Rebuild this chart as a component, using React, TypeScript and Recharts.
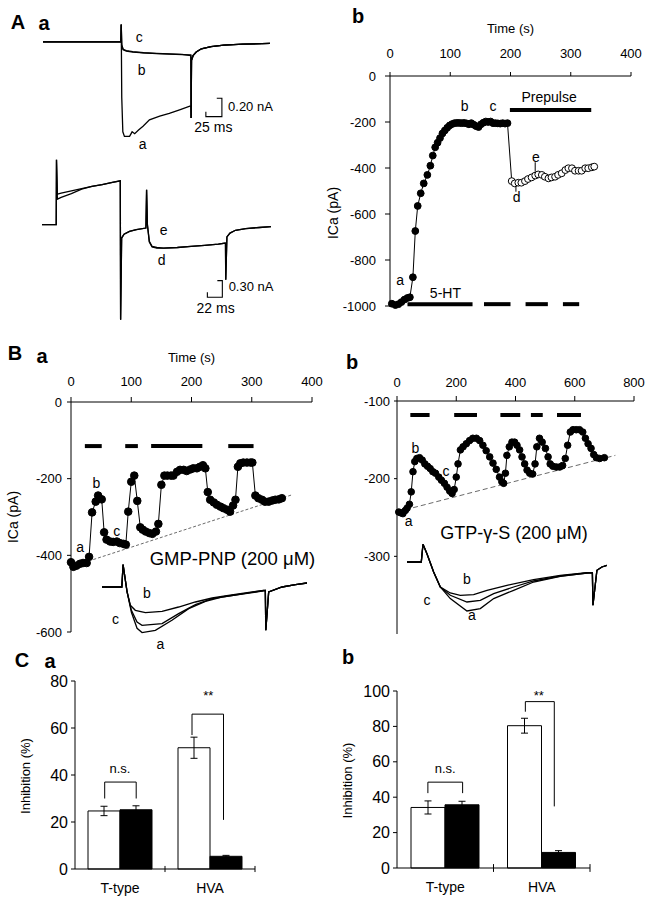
import React from "react"
import {
  Bar,
  ComposedChart,
  ErrorBar,
  Line,
  ReferenceLine,
  Scatter,
  XAxis,
  YAxis,
} from "recharts"

const FONT = '"Liberation Sans", Arial, Helvetica, sans-serif'

type Pair = [number, number]
type Note = [number, number, string]

// ---------- A a : current records, time (ms) vs current (nA) ----------
const aaTraceA: Pair[] = [
  [-122, 0], [-0.5, 0], [0, 0.19], [0.8, -0.6], [2.5, -0.98], [5, -1.03], [13, -1.03],
  [17, -0.98], [21, -1.0], [27, -0.96], [34, -0.92], [44, -0.85], [60, -0.81], [75, -0.78],
  [91, -0.74], [107, -0.7], [108.6, -0.7], [109, -0.83], [109.6, -0.2], [112, -0.15],
  [117, -0.11], [125, -0.075], [140, -0.05], [160, -0.035], [190, -0.025], [232, -0.015],
]
const aaTraceB: Pair[] = [
  [-122, 0], [-0.5, 0], [0, 0.19], [0.8, -0.04], [3, -0.085], [8, -0.1], [18, -0.112],
  [35, -0.12], [55, -0.127], [75, -0.133], [95, -0.138], [108.6, -0.142], [109, -0.83],
  [109.6, -0.2], [112, -0.15], [117, -0.11], [125, -0.075], [140, -0.05], [160, -0.035],
  [190, -0.025], [232, -0.015],
]
const aaTraceC: Pair[] = [
  [-122, 0], [-0.5, 0], [0, 0.19], [0.8, -0.03], [3, -0.08], [8, -0.095], [18, -0.105],
  [35, -0.118], [55, -0.125], [75, -0.13], [95, -0.135], [108.6, -0.15], [109, -0.83],
  [109.6, -0.2], [112, -0.15], [117, -0.11], [125, -0.075], [140, -0.05], [160, -0.035],
  [190, -0.025], [232, -0.015],
]
const aaScaleTop: Pair[] = [[149, -0.614], [157, -0.614], [157, -0.814], [132, -0.814], [132, -0.76]]
const aaNotesTop: Note[] = [[28, 0.058, "c"], [32, -0.305, "b"], [33.5, -1.11, "a"], [143.7, -0.924, "25 ms"]]
const aaUnitTop: Note[] = [[166.6, -0.705, "0.20 nA"]]

const aaTraceE: Pair[] = [
  [-153, 0], [-132.2, 0], [-131.8, 1.17], [-130.5, 0.55], [-125, 0.57], [-110, 0.61],
  [-95, 0.65], [-80, 0.69], [-65, 0.72], [-50, 0.76], [-38.5, 0.79], [-38, -1.71],
  [-36.5, -0.24], [-33, -0.17], [-25, -0.12], [-15, -0.09], [-1, -0.06], [0, 0.63],
  [1.2, 0.0], [4, -0.3], [8, -0.39], [15, -0.41], [25, -0.42], [45, -0.41], [65, -0.39],
  [85, -0.37], [105, -0.35], [115.4, -0.33], [115.8, -0.99], [117.5, -0.22], [122, -0.15],
  [130, -0.1], [145, -0.07], [165, -0.05], [182, -0.035],
]
const aaTraceD: Pair[] = [
  [-153, 0], [-132.2, 0], [-131.8, 1.17], [-130.5, 0.46], [-125, 0.49], [-110, 0.56],
  [-95, 0.64], [-80, 0.69], [-65, 0.72], [-50, 0.76], [-38.5, 0.79], [-38, -1.71],
  [-36.5, -0.24], [-33, -0.17], [-25, -0.12], [-15, -0.09], [-1, -0.06], [0, 0.63],
  [1.2, 0.0], [4, -0.31], [8, -0.4], [15, -0.42], [25, -0.42], [45, -0.41], [65, -0.39],
  [85, -0.37], [105, -0.35], [115.4, -0.33], [115.8, -0.99], [117.5, -0.22], [122, -0.15],
  [130, -0.1], [145, -0.07], [165, -0.05], [182, -0.035],
]
const aaScaleBottom: Pair[] = [[103.5, -1.005], [110.8, -1.005], [110.8, -1.305], [88.9, -1.305], [88.9, -1.215]]
const aaNotesBottom: Note[] = [[24.9, -0.09, "e"], [22, -0.63, "d"], [101, -1.49, "22 ms"]]
const aaUnitBottom: Note[] = [[120, -1.11, "0.30 nA"]]

// ---------- A b : ICa (pA) vs time (s) ----------
const abTimeTicks = [0, 100, 200, 300, 400]
const abCurrentTicks = [-1000, -800, -600, -400, -200, 0]
const abControl: Pair[] = [
  [3, -990], [9, -996], [14, -992], [19, -983], [24, -972], [29, -965], [33, -962],
  [38, -875], [42, -674], [46, -565], [51, -510], [56, -467], [62, -430], [67, -390],
  [71, -346], [75, -310], [79, -290], [83, -270], [87, -250], [91, -237], [95, -225],
  [99, -215], [103, -209], [107, -205], [111, -204], [115, -204], [119, -205], [123, -204],
  [127, -206], [131, -210], [135, -205], [139, -212], [143, -218], [147, -222], [151, -210],
  [155, -203], [159, -198], [163, -200], [167, -198], [171, -205], [175, -205], [179, -206],
  [183, -207], [187, -205], [191, -207], [195, -205],
]
const abPrepulse: Pair[] = [
  [202, -457], [207, -467], [213, -464], [218, -464], [224, -457], [229, -448], [235, -441],
  [241, -433], [246, -428], [252, -430], [257, -438], [263, -445], [268, -441], [274, -438],
  [279, -430], [285, -423], [291, -409], [296, -401], [302, -401], [307, -412], [313, -412],
  [318, -412], [324, -401], [329, -401], [335, -397], [339, -394],
]
const abDrugBars: Pair[] = [[29, 137], [156, 200], [225, 262], [287, 314]]
const abDrugLevel = -992
const abPrepulseBars: Pair[] = [[199, 334]]
const abPrepulseLevel = -148
const abLeaders: Pair[][] = [[[209, -471], [209, -503]], [[241, -375], [241, -416]]]
const abNotes: Note[] = [
  [17, -887, "a"], [124, -130, "b"], [171, -130, "c"], [210, -525, "d"], [242, -352, "e"],
  [264, -90, "Prepulse"], [92, -945, "5-HT"],
]

// ---------- B a : GMP-PNP ----------
const baTimeTicks = [0, 100, 200, 300, 400]
const baCurrentTicks = [-600, -400, -200, 0]
const baPoints: Pair[] = [
  [0, -418], [4, -430], [9, -427], [15, -422], [20, -420], [26, -420], [30, -404], [35, -288],
  [41, -260], [45, -244], [51, -254], [55, -340], [59, -359], [65, -364], [70, -365],
  [76, -364], [81, -368], [87, -370], [91, -372], [95, -286], [100, -208], [105, -192],
  [110, -258], [115, -327], [119, -333], [124, -338], [130, -342], [135, -344], [141, -338],
  [145, -318], [150, -216], [155, -192], [160, -192], [166, -192], [170, -192], [176, -182],
  [181, -177], [187, -177], [192, -180], [198, -176], [203, -173], [209, -173], [214, -169],
  [219, -165], [223, -173], [227, -235], [231, -255], [237, -262], [242, -268], [248, -273],
  [253, -277], [259, -281], [264, -286], [269, -270], [273, -255], [277, -169], [281, -160],
  [286, -158], [292, -158], [298, -158], [301, -158], [306, -244], [311, -251], [317, -255],
  [322, -260], [328, -260], [334, -257], [339, -255], [345, -254], [350, -251],
]
const baRundown: Pair[] = [[37, -411], [367, -242]]
const baDrugBars: Pair[] = [[23, 51], [90, 111], [133, 218], [261, 303]]
const baDrugLevel = -115
const baNotes: Note[] = [[15, -377, "a"], [42, -210, "b"], [76, -336, "c"]]
const baTitle: Note[] = [[268, -408, "GMP-PNP (200 \u03bcM)"]]

// B a inset records (ms, nA)
const baInsetA: Pair[] = [
  [-22, 0], [-1.3, 0], [0, 0.224], [4.2, -0.05], [8.7, -0.253], [14.6, -0.413], [19.8, -0.456],
  [33.7, -0.433], [51, -0.333], [68.5, -0.216], [86, -0.143], [103, -0.1], [127.7, -0.066],
  [146.8, -0.038], [148.5, -0.036], [149, -0.433], [152, -0.05], [166, 0], [180, 0.023], [192, 0.04],
]
const baInsetB: Pair[] = [
  [-22, 0], [-1.3, 0], [0, 0.224], [4.2, -0.05], [7.6, -0.183], [12.8, -0.233], [23.3, -0.256],
  [40.7, -0.243], [58, -0.2], [75.5, -0.15], [93, -0.11], [110, -0.083], [127.7, -0.06],
  [146.8, -0.033], [148.5, -0.033], [149, -0.433], [152, -0.05], [166, 0], [180, 0.023], [192, 0.04],
]
const baInsetC: Pair[] = [
  [-22, 0], [-1.3, 0], [0, 0.224], [4.2, -0.05], [8.7, -0.233], [14.6, -0.35], [19.8, -0.383],
  [40.7, -0.366], [58, -0.266], [75.5, -0.176], [93, -0.116], [110, -0.09], [127.7, -0.063],
  [146.8, -0.035], [148.5, -0.034], [149, -0.433], [152, -0.05], [166, 0], [180, 0.023], [192, 0.04],
]
const baInsetNotes: Note[] = [[25, -0.056, "b"], [-8, -0.316, "c"], [38.9, -0.566, "a"]]

// ---------- B b : GTP-gamma-S ----------
const bbTimeTicks = [0, 200, 400, 600, 800]
const bbCurrentTicks = [-400, -300, -200, -100]
const bbPoints: Pair[] = [
  [6, -243], [13, -244], [20, -245], [28, -241], [34, -238], [42, -233], [48, -217], [54, -191],
  [60, -178], [67, -174], [76, -173], [85, -176], [94, -181], [103, -184], [112, -187],
  [121, -191], [130, -193], [141, -198], [150, -202], [160, -206], [169, -211], [178, -216],
  [186, -219], [193, -214], [200, -198], [206, -181], [214, -163], [223, -159], [234, -155],
  [245, -151], [256, -148], [268, -148], [279, -151], [290, -157], [301, -164], [313, -172],
  [324, -180], [335, -188], [346, -198], [354, -204], [360, -206], [366, -193], [371, -170],
  [379, -159], [388, -153], [397, -153], [405, -157], [414, -163], [422, -172], [431, -181],
  [439, -189], [448, -193], [458, -194], [466, -181], [472, -159], [481, -148], [490, -153],
  [501, -161], [510, -172], [517, -181], [526, -184], [538, -185], [549, -185], [559, -183],
  [568, -174], [576, -157], [585, -140], [594, -137], [605, -137], [616, -137], [627, -140],
  [636, -148], [645, -155], [655, -161], [664, -169], [673, -173], [684, -174], [700, -173],
]
const bbRundown: Pair[] = [[28, -240], [737, -170]]
const bbDrugBars: Pair[] = [[45, 110], [193, 270], [349, 416], [452, 492], [540, 621]]
const bbDrugLevel = -118
const bbNotes: Note[] = [[39, -255, "a"], [62, -160, "b"], [165, -190, "c"]]
const bbTitle: Note[] = [[395, -270, "GTP-\u03b3-S (200 \u03bcM)"]]

// B b inset records (ms, nA)
const bbInsetA: Pair[] = [
  [-14.1, 0], [-1.5, 0], [0, 0.177], [3.5, 0.083], [9.4, -0.1], [15.3, -0.25], [24.1, -0.366],
  [38.8, -0.49], [50.6, -0.466], [62.4, -0.366], [80, -0.283], [97.6, -0.2], [121.2, -0.143],
  [144.7, -0.11], [149.5, -0.107], [150, -0.433], [153.5, -0.083], [157.9, -0.05], [162.4, -0.033],
]
const bbInsetB: Pair[] = [
  [-14.1, 0], [-1.5, 0], [0, 0.177], [3.5, 0.083], [9.4, -0.1], [15.3, -0.25], [24.1, -0.31],
  [32.9, -0.333], [44.7, -0.327], [56.5, -0.283], [74.1, -0.233], [97.6, -0.177], [121.2, -0.133],
  [144.7, -0.107], [149.5, -0.107], [150, -0.433], [153.5, -0.083], [157.9, -0.05], [162.4, -0.033],
]
const bbInsetC: Pair[] = [
  [-14.1, 0], [-1.5, 0], [0, 0.177], [3.5, 0.083], [9.4, -0.1], [15.3, -0.25], [24.1, -0.333],
  [38.8, -0.4], [50.6, -0.383], [62.4, -0.316], [80, -0.25], [97.6, -0.19], [121.2, -0.14],
  [144.7, -0.11], [149.5, -0.108], [150, -0.433], [153.5, -0.083], [157.9, -0.05], [162.4, -0.033],
]
const bbInsetNotes: Note[] = [[38.8, -0.166, "b"], [3.5, -0.383, "c"], [43.2, -0.533, "a"]]

// ---------- C : inhibition (%) ----------
const cCategories = ["T-type", "HVA"]
const caTicks = [0, 20, 40, 60, 80]
const caControl = [24.7, 51.6]
const caControlErr = [2.0, 4.5]
const caTreated = [25.2, 5.4]
const caTreatedErr = [1.7, 0.4]
const caBrackets: Pair[][] = [
  [[0.33, 30], [0.33, 37], [0.68, 37], [0.68, 30]],
  [[1.3, 57], [1.3, 65.9], [1.65, 65.9], [1.65, 20.9]],
]
const caNotes: Note[] = [[0.5, 42.8, "n.s."], [1.48, 73.9, "**"]]

const cbTicks = [0, 20, 40, 60, 80, 100]
const cbControl = [34.2, 80.4]
const cbControlErr = [3.7, 4.2]
const cbTreated = [35.7, 8.8]
const cbTreatedErr = [2.0, 1.0]
const cbBrackets: Pair[][] = [
  [[0.32, 42.3], [0.32, 48.5], [0.68, 48.5], [0.68, 42.3]],
  [[1.33, 88.3], [1.33, 94], [1.63, 94], [1.63, 34.8]],
]
const cbNotes: Note[] = [[0.5, 56.4, "n.s."], [1.47, 97.4, "**"]]
const cGroupEdges = [1, 2]

// ---------- helpers ----------
const pts = (rows: Pair[]) => rows.map(([x, y]) => ({ x, y }))
const notes = (rows: Note[]) => rows.map(([x, y, text]) => ({ x, y, text }))

const textShape =
  (size: number, anchor: "start" | "middle" | "end" = "middle") =>
  (p: any) =>
    (
      <text
        x={p.cx}
        y={p.cy}
        fontSize={size}
        textAnchor={anchor}
        dominantBaseline="central"
        fill="#000"
      >
        {p.payload.text}
      </text>
    )

const dotShape = (r: number, filled: boolean) => (p: any) =>
  <circle cx={p.cx} cy={p.cy} r={r} fill={filled ? "#000" : "#fff"} stroke="#000" strokeWidth={1} />

const vTitle = (text: string, dx: number, dy: number, size: number) => (props: any) => {
  const vb = props.viewBox ?? { x: 0, y: 0, width: 0, height: 0 }
  const x = vb.x + dx
  const y = vb.y + vb.height / 2 + dy
  return (
    <text
      x={x}
      y={y}
      transform={`rotate(-90 ${x} ${y})`}
      textAnchor="middle"
      dominantBaseline="central"
      fontSize={size}
      fill="#000"
    >
      {text}
    </text>
  )
}

const tick = (size: number) => ({ fill: "#000", fontSize: size })

function Box({ x, y, children }: { x: number; y: number; children: React.ReactNode }) {
  return <div style={{ position: "absolute", left: x, top: y }}>{children}</div>
}

function Tag({ x, y, children }: { x: number; y: number; children: React.ReactNode }) {
  return (
    <div
      style={{
        position: "absolute",
        left: x,
        top: y,
        transform: "translate(-50%, -50%)",
        fontWeight: 700,
        fontSize: 20,
        lineHeight: 1,
      }}
    >
      {children}
    </div>
  )
}

function Traces({
  width,
  height,
  xDomain,
  yDomain,
  traces,
  scale,
  labels,
  units,
}: {
  width: number
  height: number
  xDomain: Pair
  yDomain: Pair
  traces: Pair[][]
  scale?: Pair[]
  labels: Note[]
  units?: Note[]
}) {
  return (
    <ComposedChart width={width} height={height} margin={{ top: 0, right: 0, bottom: 0, left: 0 }}>
      <XAxis type="number" dataKey="x" domain={xDomain} hide />
      <YAxis type="number" dataKey="y" domain={yDomain} hide />
      {traces.map((t, i) => (
        <Line
          key={i}
          data={pts(t)}
          dataKey="y"
          stroke="#000"
          strokeWidth={1.3}
          dot={false}
          isAnimationActive={false}
        />
      ))}
      {scale && (
        <Line data={pts(scale)} dataKey="y" stroke="#000" strokeWidth={1.1} dot={false} isAnimationActive={false} />
      )}
      <Scatter data={notes(labels)} shape={textShape(14)} isAnimationActive={false} />
      {units && <Scatter data={notes(units)} shape={textShape(13, "start")} isAnimationActive={false} />}
    </ComposedChart>
  )
}

function PanelAb() {
  return (
    <ComposedChart width={329} height={330} margin={{ top: 46, right: 18, bottom: 24, left: 5 }}>
      <XAxis
        type="number"
        dataKey="x"
        orientation="top"
        domain={[0, 400]}
        ticks={abTimeTicks}
        height={30}
        tickSize={4}
        tickMargin={14}
        stroke="#000"
        tick={tick(13)}
        label={{ value: "Time (s)", position: "top", offset: 13, fill: "#000", fontSize: 13 }}
      />
      <YAxis
        type="number"
        dataKey="y"
        domain={[-1000, 0]}
        ticks={abCurrentTicks}
        width={65}
        tickSize={5}
        tickMargin={9}
        stroke="#000"
        tick={tick(13)}
        label={{ content: vTitle("ICa (pA)", 8, 22, 14) }}
      />
      <Line
        data={pts([...abControl, ...abPrepulse])}
        dataKey="y"
        stroke="#000"
        strokeWidth={1}
        dot={false}
        isAnimationActive={false}
      />
      {abDrugBars.map(([a, b], i) => (
        <ReferenceLine key={"d" + i} segment={[{ x: a, y: abDrugLevel }, { x: b, y: abDrugLevel }]} stroke="#000" strokeWidth={4} />
      ))}
      {abPrepulseBars.map(([a, b], i) => (
        <ReferenceLine key={"p" + i} segment={[{ x: a, y: abPrepulseLevel }, { x: b, y: abPrepulseLevel }]} stroke="#000" strokeWidth={4} />
      ))}
      {abLeaders.map((seg, i) => (
        <ReferenceLine key={"l" + i} segment={seg.map(([x, y]) => ({ x, y }))} stroke="#000" strokeWidth={1} />
      ))}
      <Scatter data={pts(abControl)} shape={dotShape(3.4, true)} isAnimationActive={false} />
      <Scatter data={pts(abPrepulse)} shape={dotShape(3.4, false)} isAnimationActive={false} />
      <Scatter data={notes(abNotes)} shape={textShape(14)} isAnimationActive={false} />
    </ComposedChart>
  )
}

function PanelBa() {
  return (
    <ComposedChart width={330} height={300} margin={{ top: 32, right: 18, bottom: 8, left: 5 }}>
      <XAxis
        type="number"
        dataKey="x"
        orientation="top"
        domain={[0, 400]}
        ticks={baTimeTicks}
        height={30}
        tickSize={5}
        tickMargin={11}
        stroke="#000"
        tick={tick(13)}
        label={{ value: "Time (s)", position: "top", offset: 10, fill: "#000", fontSize: 13 }}
      />
      <YAxis
        type="number"
        dataKey="y"
        domain={[-600, 0]}
        ticks={baCurrentTicks}
        width={66}
        tickSize={4}
        tickMargin={5}
        stroke="#000"
        tick={tick(13)}
        label={{ content: vTitle("ICa (pA)", 8, 0, 14) }}
      />
      <Line data={pts(baRundown)} dataKey="y" stroke="#444" strokeWidth={0.8} strokeDasharray="3 2" dot={false} isAnimationActive={false} />
      <Line data={pts(baPoints)} dataKey="y" stroke="#000" strokeWidth={1} dot={false} isAnimationActive={false} />
      {baDrugBars.map(([a, b], i) => (
        <ReferenceLine key={i} segment={[{ x: a, y: baDrugLevel }, { x: b, y: baDrugLevel }]} stroke="#000" strokeWidth={4} />
      ))}
      <Scatter data={pts(baPoints)} shape={dotShape(3.8, true)} isAnimationActive={false} />
      <Scatter data={notes(baNotes)} shape={textShape(14)} isAnimationActive={false} />
      <Scatter data={notes(baTitle)} shape={textShape(18.5)} isAnimationActive={false} />
    </ComposedChart>
  )
}

function PanelBb() {
  return (
    <ComposedChart width={319} height={300} margin={{ top: 31, right: 15, bottom: 6, left: 0 }}>
      <XAxis
        type="number"
        dataKey="x"
        orientation="top"
        domain={[0, 800]}
        ticks={bbTimeTicks}
        height={30}
        tickSize={5}
        tickMargin={9}
        stroke="#000"
        tick={tick(13)}
      />
      <YAxis
        type="number"
        dataKey="y"
        domain={[-400, -100]}
        ticks={bbCurrentTicks}
        width={67}
        tickSize={3}
        tickMargin={4}
        stroke="#000"
        tick={tick(13)}
      />
      <Line data={pts(bbRundown)} dataKey="y" stroke="#444" strokeWidth={0.8} strokeDasharray="5 3" dot={false} isAnimationActive={false} />
      <Line data={pts(bbPoints)} dataKey="y" stroke="#000" strokeWidth={1} dot={false} isAnimationActive={false} />
      {bbDrugBars.map(([a, b], i) => (
        <ReferenceLine key={i} segment={[{ x: a, y: bbDrugLevel }, { x: b, y: bbDrugLevel }]} stroke="#000" strokeWidth={4} />
      ))}
      <Scatter data={pts(bbPoints)} shape={dotShape(3.3, true)} isAnimationActive={false} />
      <Scatter data={notes(bbNotes)} shape={textShape(14)} isAnimationActive={false} />
      <Scatter data={notes(bbTitle)} shape={textShape(18)} isAnimationActive={false} />
    </ComposedChart>
  )
}

function InhibitionPanel({
  width,
  margin,
  yWidth,
  yMax,
  ticks,
  control,
  controlErr,
  treated,
  treatedErr,
  barSize,
  brackets,
  marks,
  titleDx,
  edgeTick,
}: {
  width: number
  margin: { top: number; right: number; bottom: number; left: number }
  yWidth: number
  yMax: number
  ticks: number[]
  control: number[]
  controlErr: number[]
  treated: number[]
  treatedErr: number[]
  barSize: number
  brackets: Pair[][]
  marks: Note[]
  titleDx: number
  edgeTick: number
}) {
  const rows = cCategories.map((name, i) => ({
    name,
    control: control[i],
    controlErr: controlErr[i],
    treated: treated[i],
    treatedErr: treatedErr[i],
  }))
  return (
    <ComposedChart width={width} height={239} data={rows} margin={margin} barGap={0}>
      <XAxis
        dataKey="name"
        type="category"
        height={30}
        tickLine={false}
        tickSize={0}
        tickMargin={14}
        stroke="#000"
        tick={tick(14)}
      />
      <XAxis xAxisId="n" type="number" dataKey="x" domain={[0, 2]} hide />
      <YAxis
        domain={[0, yMax]}
        ticks={ticks}
        width={yWidth}
        tickSize={4}
        tickMargin={3}
        stroke="#000"
        tick={tick(16)}
        label={{ content: vTitle("Inhibition (%)", titleDx, 1, 13) }}
      />
      <YAxis yAxisId="n" type="number" dataKey="y" domain={[0, yMax]} hide />
      <Bar dataKey="control" fill="#fff" stroke="#000" strokeWidth={1} barSize={barSize} isAnimationActive={false}>
        <ErrorBar dataKey="controlErr" width={3.5} stroke="#000" strokeWidth={1} />
      </Bar>
      <Bar dataKey="treated" fill="#000" stroke="#000" strokeWidth={1} barSize={barSize} isAnimationActive={false}>
        <ErrorBar dataKey="treatedErr" width={3.5} stroke="#000" strokeWidth={1} />
      </Bar>
      {brackets.map((b, i) => (
        <Line
          key={i}
          xAxisId="n"
          yAxisId="n"
          data={pts(b)}
          dataKey="y"
          stroke="#000"
          strokeWidth={1}
          dot={false}
          isAnimationActive={false}
        />
      ))}
      {cGroupEdges.map((e) => (
        <ReferenceLine
          key={e}
          xAxisId="n"
          yAxisId="n"
          segment={[{ x: e, y: -edgeTick }, { x: e, y: edgeTick }]}
          stroke="#000"
          strokeWidth={1}
          ifOverflow="visible"
        />
      ))}
      <Scatter xAxisId="n" yAxisId="n" data={notes(marks)} shape={textShape(13)} isAnimationActive={false} />
    </ComposedChart>
  )
}

export default function App() {
  return (
    <div
      style={{
        position: "absolute",
        left: 0,
        top: 0,
        width: 649,
        height: 899,
        background: "#fff",
        fontFamily: FONT,
        color: "#000",
        overflow: "hidden",
      }}
    >
      <Box x={43} y={19}>
        <Traces
          width={267}
          height={133}
          xDomain={[-122, 294.4]}
          yDomain={[-1.2, 0.25]}
          traces={[aaTraceB, aaTraceC, aaTraceA]}
          scale={aaScaleTop}
          labels={aaNotesTop}
          units={aaUnitTop}
        />
      </Box>
      <Box x={42} y={158}>
        <Traces
          width={269}
          height={164}
          xDomain={[-153, 240.5]}
          yDomain={[-1.75, 1.2]}
          traces={[aaTraceD, aaTraceE]}
          scale={aaScaleBottom}
          labels={aaNotesBottom}
          units={aaUnitBottom}
        />
      </Box>
      <Box x={320} y={0}>
        <PanelAb />
      </Box>
      <Box x={0} y={340}>
        <PanelBa />
      </Box>
      <Box x={330} y={340}>
        <PanelBb />
      </Box>
      <Box x={102} y={561}>
        <Traces
          width={205}
          height={91}
          xDomain={[-22, 192]}
          yDomain={[-0.65, 0.26]}
          traces={[baInsetA, baInsetC, baInsetB]}
          labels={baInsetNotes}
        />
      </Box>
      <Box x={407} y={542}>
        <Traces
          width={200}
          height={85}
          xDomain={[-14.1, 162.4]}
          yDomain={[-0.65, 0.2]}
          traces={[bbInsetA, bbInsetC, bbInsetB]}
          labels={bbInsetNotes}
        />
      </Box>
      <Box x={0} y={660}>
        <InhibitionPanel
          width={300}
          margin={{ top: 21, right: 45, bottom: 0, left: 5 }}
          yWidth={70}
          yMax={80}
          ticks={caTicks}
          control={caControl}
          controlErr={caControlErr}
          treated={caTreated}
          treatedErr={caTreatedErr}
          barSize={32}
          brackets={caBrackets}
          marks={caNotes}
          titleDx={20}
          edgeTick={1.3}
        />
      </Box>
      <Box x={330} y={660}>
        <InhibitionPanel
          width={319}
          margin={{ top: 31, right: 59, bottom: 1, left: 0 }}
          yWidth={67}
          yMax={100}
          ticks={cbTicks}
          control={cbControl}
          controlErr={cbControlErr}
          treated={cbTreated}
          treatedErr={cbTreatedErr}
          barSize={34}
          brackets={cbBrackets}
          marks={cbNotes}
          titleDx={17}
          edgeTick={2.2}
        />
      </Box>
      <Tag x={18} y={22}>A</Tag>
      <Tag x={44} y={23}>a</Tag>
      <Tag x={358} y={16}>b</Tag>
      <Tag x={15} y={353}>B</Tag>
      <Tag x={42} y={356}>a</Tag>
      <Tag x={352} y={362}>b</Tag>
      <Tag x={22} y={660}>C</Tag>
      <Tag x={50} y={661}>a</Tag>
      <Tag x={348} y={657}>b</Tag>
    </div>
  )
}
